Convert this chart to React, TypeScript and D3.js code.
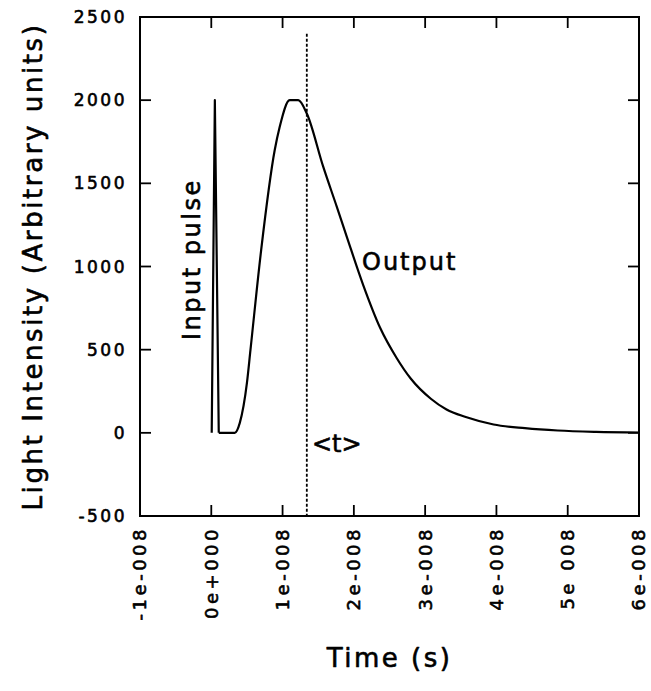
import * as d3 from 'd3';
import { useEffect, useRef } from 'react';

const width = 651;
const height = 691;

// axis ticks
const xTicks = [-1e-8, 0, 1e-8, 2e-8, 3e-8, 4e-8, 5e-8, 6e-8];
const xTickLabels = ['-1e-008', '0e+000', '1e-008', '2e-008', '3e-008', '4e-008', '5e 008', '6e-008'];
const yTicks = [-500, 0, 500, 1000, 1500, 2000, 2500];

// input pulse (s, arbitrary units)
const pulseTime = [0.006e-8, 0.05e-8, 0.105e-8];
const pulseValue = [0, 2000, 0];

// output response
const outputTime = [
  0.105e-8, 0.33e-8, 0.4e-8, 0.5e-8, 0.55e-8, 0.7e-8, 0.89e-8, 0.96e-8, 1.1e-8, 1.22e-8,
  1.34e-8, 1.57e-8, 1.76e-8, 1.9e-8, 2.13e-8, 2.37e-8, 2.6e-8, 2.8e-8, 3.08e-8, 3.3e-8,
  3.57e-8, 3.96e-8, 4.4e-8, 4.86e-8, 5.4e-8, 6e-8,
];
const outputValue = [
  0, 0, 60, 300, 500, 1100, 1700, 1840, 2000, 2000,
  1920, 1600, 1360, 1180, 890, 630, 450, 325, 205, 140,
  95, 50, 28, 14, 6, 2,
];

// mean time <t>
const meanTime = 1.34e-8;
const meanLineTop = 2400;

const FONT = '"DejaVu Sans", sans-serif';

const App = () => {
  const svgRef = useRef<SVGSVGElement>(null);

  useEffect(() => {
    const left = 140;
    const right = 639;
    const top = 17;
    const bottom = 516;
    const tickLen = 11;

    const x = d3.scaleLinear().domain([-1e-8, 6e-8]).range([left, right]);
    const y = d3.scaleLinear().domain([-500, 2500]).range([bottom, top]);

    const svg = d3.select(svgRef.current).attr('width', width).attr('height', height);
    svg.selectAll('*').remove();
    svg.append('rect').attr('width', width).attr('height', height).attr('fill', '#fff');

    const line = d3
      .line<[number, number]>()
      .x((d) => x(d[0]))
      .y((d) => y(d[1]));

    // mean time marker
    svg
      .append('line')
      .attr('x1', x(meanTime))
      .attr('x2', x(meanTime))
      .attr('y1', y(meanLineTop))
      .attr('y2', y(-500))
      .attr('stroke', '#000')
      .attr('stroke-width', 1.8)
      .attr('stroke-dasharray', '3,2');

    const pulse = pulseTime.map((t, i) => [t, pulseValue[i]] as [number, number]);
    const output = outputTime.map((t, i) => [t, outputValue[i]] as [number, number]);

    svg
      .append('path')
      .attr('d', line(pulse))
      .attr('fill', 'none')
      .attr('stroke', '#000')
      .attr('stroke-width', 2.2)
      .attr('stroke-linejoin', 'round');

    svg
      .append('path')
      .attr('d', line.curve(d3.curveMonotoneX)(output))
      .attr('fill', 'none')
      .attr('stroke', '#000')
      .attr('stroke-width', 2.2)
      .attr('stroke-linejoin', 'round');

    // frame
    svg
      .append('rect')
      .attr('x', left)
      .attr('y', top)
      .attr('width', right - left)
      .attr('height', bottom - top)
      .attr('fill', 'none')
      .attr('stroke', '#000')
      .attr('stroke-width', 2);

    // inward ticks
    const g = svg.append('g').attr('stroke', '#000').attr('stroke-width', 1.8);
    xTicks.slice(1, -1).forEach((t) => {
      g.append('line').attr('x1', x(t)).attr('x2', x(t)).attr('y1', bottom).attr('y2', bottom - tickLen);
      g.append('line').attr('x1', x(t)).attr('x2', x(t)).attr('y1', top).attr('y2', top + tickLen);
    });
    yTicks.slice(1, -1).forEach((v) => {
      g.append('line').attr('x1', left).attr('x2', left + tickLen).attr('y1', y(v)).attr('y2', y(v));
      g.append('line').attr('x1', right).attr('x2', right - tickLen).attr('y1', y(v)).attr('y2', y(v));
    });

    // text style: regular face thickened with a thin outline
    const textStyle = (sel: any) =>
      sel
        .attr('font-family', FONT)
        .attr('fill', '#000')
        .attr('stroke', '#000')
        .attr('stroke-width', 0.6)
        .attr('stroke-linejoin', 'round');

    // y tick labels
    svg
      .append('g')
      .selectAll('text')
      .data(yTicks)
      .join('text')
      .attr('x', left - 13)
      .attr('y', (d) => y(d))
      .attr('dy', '0.36em')
      .attr('text-anchor', 'end')
      .attr('font-size', 17)
      .attr('letter-spacing', 2.5)
      .call(textStyle)
      .text((d) => d);

    // x tick labels (rotated)
    svg
      .append('g')
      .selectAll('text')
      .data(xTicks)
      .join('text')
      .attr('transform', (d) => `translate(${x(d)},${bottom + 10}) rotate(-90)`)
      .attr('dy', '0.36em')
      .attr('text-anchor', 'end')
      .attr('font-size', 18)
      .attr('letter-spacing', 3.5)
      .call(textStyle)
      .text((d, i) => xTickLabels[i]);

    // axis titles
    svg
      .append('text')
      .attr('x', (left + right) / 2)
      .attr('y', 667)
      .attr('text-anchor', 'middle')
      .attr('font-size', 26)
      .attr('letter-spacing', 2.5)
      .call(textStyle)
      .text('Time (s)');

    svg
      .append('text')
      .attr('transform', `translate(42,${(top + bottom) / 2}) rotate(-90)`)
      .attr('text-anchor', 'middle')
      .attr('font-size', 26)
      .attr('letter-spacing', 2.6)
      .call(textStyle)
      .text('Light Intensity (Arbitrary units)');

    // annotations
    svg
      .append('text')
      .attr('transform', `translate(200,340) rotate(-90)`)
      .attr('font-size', 24)
      .attr('letter-spacing', 2.5)
      .call(textStyle)
      .text('Input pulse');

    svg
      .append('text')
      .attr('x', 362)
      .attr('y', 270)
      .attr('font-size', 24)
      .attr('letter-spacing', 2)
      .call(textStyle)
      .text('Output');

    svg
      .append('text')
      .attr('x', 312)
      .attr('y', 452)
      .attr('font-size', 24)
      .call(textStyle)
      .text('<t>');
  }, []);

  return (
    <div style={{ position: 'absolute', left: 0, top: 0 }}>
      <svg ref={svgRef}></svg>
    </div>
  );
};

export default App;
